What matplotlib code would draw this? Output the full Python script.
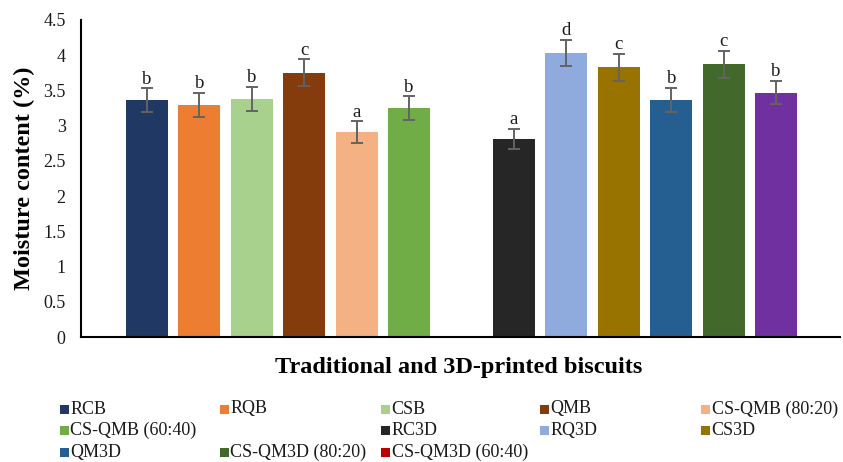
import numpy as np
import matplotlib
matplotlib.use("Agg")
import matplotlib.pyplot as plt
from matplotlib.patches import Rectangle

plt.rcParams['font.family'] = ['Liberation Serif', 'DejaVu Serif']

# samples (blank slot separates traditional and 3D-printed groups)
samples = ["RCB", "RQB", "CSB", "QMB", "CS-QMB (80:20)", "CS-QMB (60:40)", "",
           "RC3D", "RQ3D", "CS3D", "QM3D", "CS-QM3D (80:20)", "CS-QM3D (60:40)"]
moisture = [3.36, 3.30, 3.38, 3.75, 2.91, 3.25, np.nan,
            2.81, 4.03, 3.83, 3.37, 3.87, 3.47]
sd = [0.17, 0.17, 0.17, 0.19, 0.15, 0.165, np.nan,
      0.14, 0.19, 0.19, 0.17, 0.19, 0.165]
letters = ["b", "b", "b", "c", "a", "b", "",
           "a", "d", "c", "b", "c", "b"]
bar_colors = ["#203864", "#ED7D31", "#A9D18E", "#843C0C", "#F4B183", "#70AD47", "none",
              "#262626", "#8FAADC", "#997300", "#255E91", "#43682B", "#7030A0"]
# legend swatch for last series is red in the original
legend_colors = bar_colors[:-1] + ["#C00000"]

fig = plt.figure(figsize=(8.43, 4.62), dpi=100)
ax = fig.add_axes([81/843, 1 - 337/462, (840 - 81)/843, (337 - 20)/462])

x = np.arange(len(samples))
ax.bar(x, moisture, width=0.8, color=bar_colors, zorder=2)
ax.errorbar(x, moisture, yerr=sd, fmt="none", ecolor="#636363",
            elinewidth=1.4, capsize=4.5, capthick=1.4, zorder=3)

for xi, m, s, lab in zip(x, moisture, sd, letters):
    if lab:
        ax.annotate(lab, (xi, m + s), xytext=(0, 0.5), textcoords="offset points",
                    ha="center", va="bottom", fontsize=13.5, color="#1a1a1a")

ax.set_xlim(-1.26, 13.22)
ax.set_ylim(0, 4.5)
ax.set_yticks(np.arange(0, 4.51, 0.5))
ax.set_yticklabels(["0", "0.5", "1", "1.5", "2", "2.5", "3", "3.5", "4", "4.5"])
ax.tick_params(axis="y", length=0, pad=11, labelsize=13, labelcolor="#1a1a1a")
ax.set_xticks([])
for sp in ["top", "right"]:
    ax.spines[sp].set_visible(False)
for sp in ["left", "bottom"]:
    ax.spines[sp].set_linewidth(1.5)
    ax.spines[sp].set_color("black")

fig.text(24/843, 1 - 178/462, "Moisture content (%)", rotation=90,
         ha="center", va="center", fontsize=17.5, fontweight="bold")
fig.text(459/843, 1 - 367/462, "Traditional and 3D-printed biscuits",
         ha="center", va="center", fontsize=17.5, fontweight="bold")

# legend laid out row by row like the Excel one (5 columns)
col_x = [60, 220, 381, 540, 701]
row_y = [409, 430.5, 452]
for i, (name, c) in enumerate(zip(samples, legend_colors)):
    if not name:
        continue
    r, k = divmod(i, 5)
    px, py = col_x[k], row_y[r]
    fig.patches.append(Rectangle((px/843, 1 - (py + 4.5)/462), 9/843, 9/462,
                                 transform=fig.transFigure, facecolor=c,
                                 edgecolor="none"))
    fig.text((px + 10.5)/843, 1 - py/462, name, ha="left", va="center",
             fontsize=13, color="#1a1a1a")

fig.savefig("out.png", dpi=100)
